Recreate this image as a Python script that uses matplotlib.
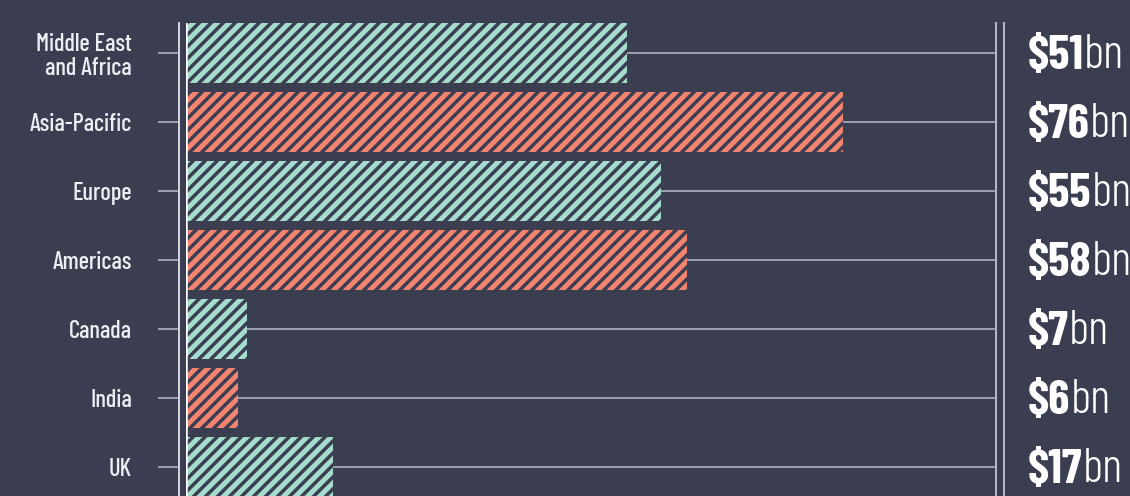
import matplotlib
matplotlib.use('Agg')
import matplotlib.pyplot as plt
from matplotlib.lines import Line2D

# data
regions = ['Middle East\nand Africa', 'Asia-Pacific', 'Europe', 'Americas',
           'Canada', 'India', 'UK']
spend_bn = [51, 76, 55, 58, 7, 6, 17]
bar_colors = ['#a6dccd', '#f4846f', '#a6dccd', '#f4846f',
              '#a6dccd', '#f4846f', '#a6dccd']

BG = '#3a3e50'
GRID = '#9a9eac'
FONT = ['Barlow Condensed', 'DejaVu Sans']

plt.rcParams['hatch.linewidth'] = 5
plt.rcParams['font.family'] = FONT

W, H, DPI = 1130, 496, 72
fig = plt.figure(figsize=(W / DPI, H / DPI), dpi=DPI, facecolor=BG)
ax = fig.add_axes([186 / W, -40 / H, (996 - 186) / W, (496 - 23 + 40) / H])
ax.set_facecolor(BG)

# spines first (set_position resets the ticks)
ax.spines['top'].set_visible(False)
ax.spines['bottom'].set_visible(False)
ax.spines['left'].set_position(('outward', 7))
ax.spines['left'].set_color('#cfd2da')
ax.spines['left'].set_linewidth(2)
ax.spines['right'].set_color('#b4b8c6')
ax.spines['right'].set_linewidth(2)

ypos = list(range(len(regions)))
ax.barh(ypos, spend_bn, height=0.87, color=BG, edgecolor=bar_colors,
        linewidth=0, hatch='//', zorder=2)

ax.set_xlim(0, (996 - 186) / 8.645)
ax.set_ylim(7.0, -0.435)

# gridlines + ticks
ax.set_axisbelow(True)
ax.grid(axis='y', color=GRID, linewidth=2)
ax.set_xticks([])
ax.set_yticks(ypos)
ax.set_yticklabels(regions, fontsize=24.5, fontweight=500, color='#eceef3',
                   linespacing=1.1)
ax.tick_params(axis='y', length=21, width=2, color=GRID, pad=26)
ax.axvline(0, color='white', linewidth=2.5, zorder=3)

fig.add_artist(Line2D([1004 / W, 1004 / W], [-0.1, 1 - 23 / H],
                      transform=fig.transFigure, color='#b4b8c6', linewidth=2))

# value labels
for y, v in zip(ypos, spend_bn):
    t = ax.annotate(f'${v}', xy=(1, y), xycoords=('axes fraction', 'data'),
                    xytext=(32, -3), textcoords='offset points',
                    ha='left', va='center', fontsize=48, fontweight=700,
                    color='white', annotation_clip=False)
    ax.annotate('bn', xy=(1, 0.5), xycoords=t, xytext=(0, 0),
                textcoords='offset points', ha='left', va='center',
                fontsize=48, fontweight=300, color='white')

fig.savefig('out.png', dpi=DPI, facecolor=BG)
